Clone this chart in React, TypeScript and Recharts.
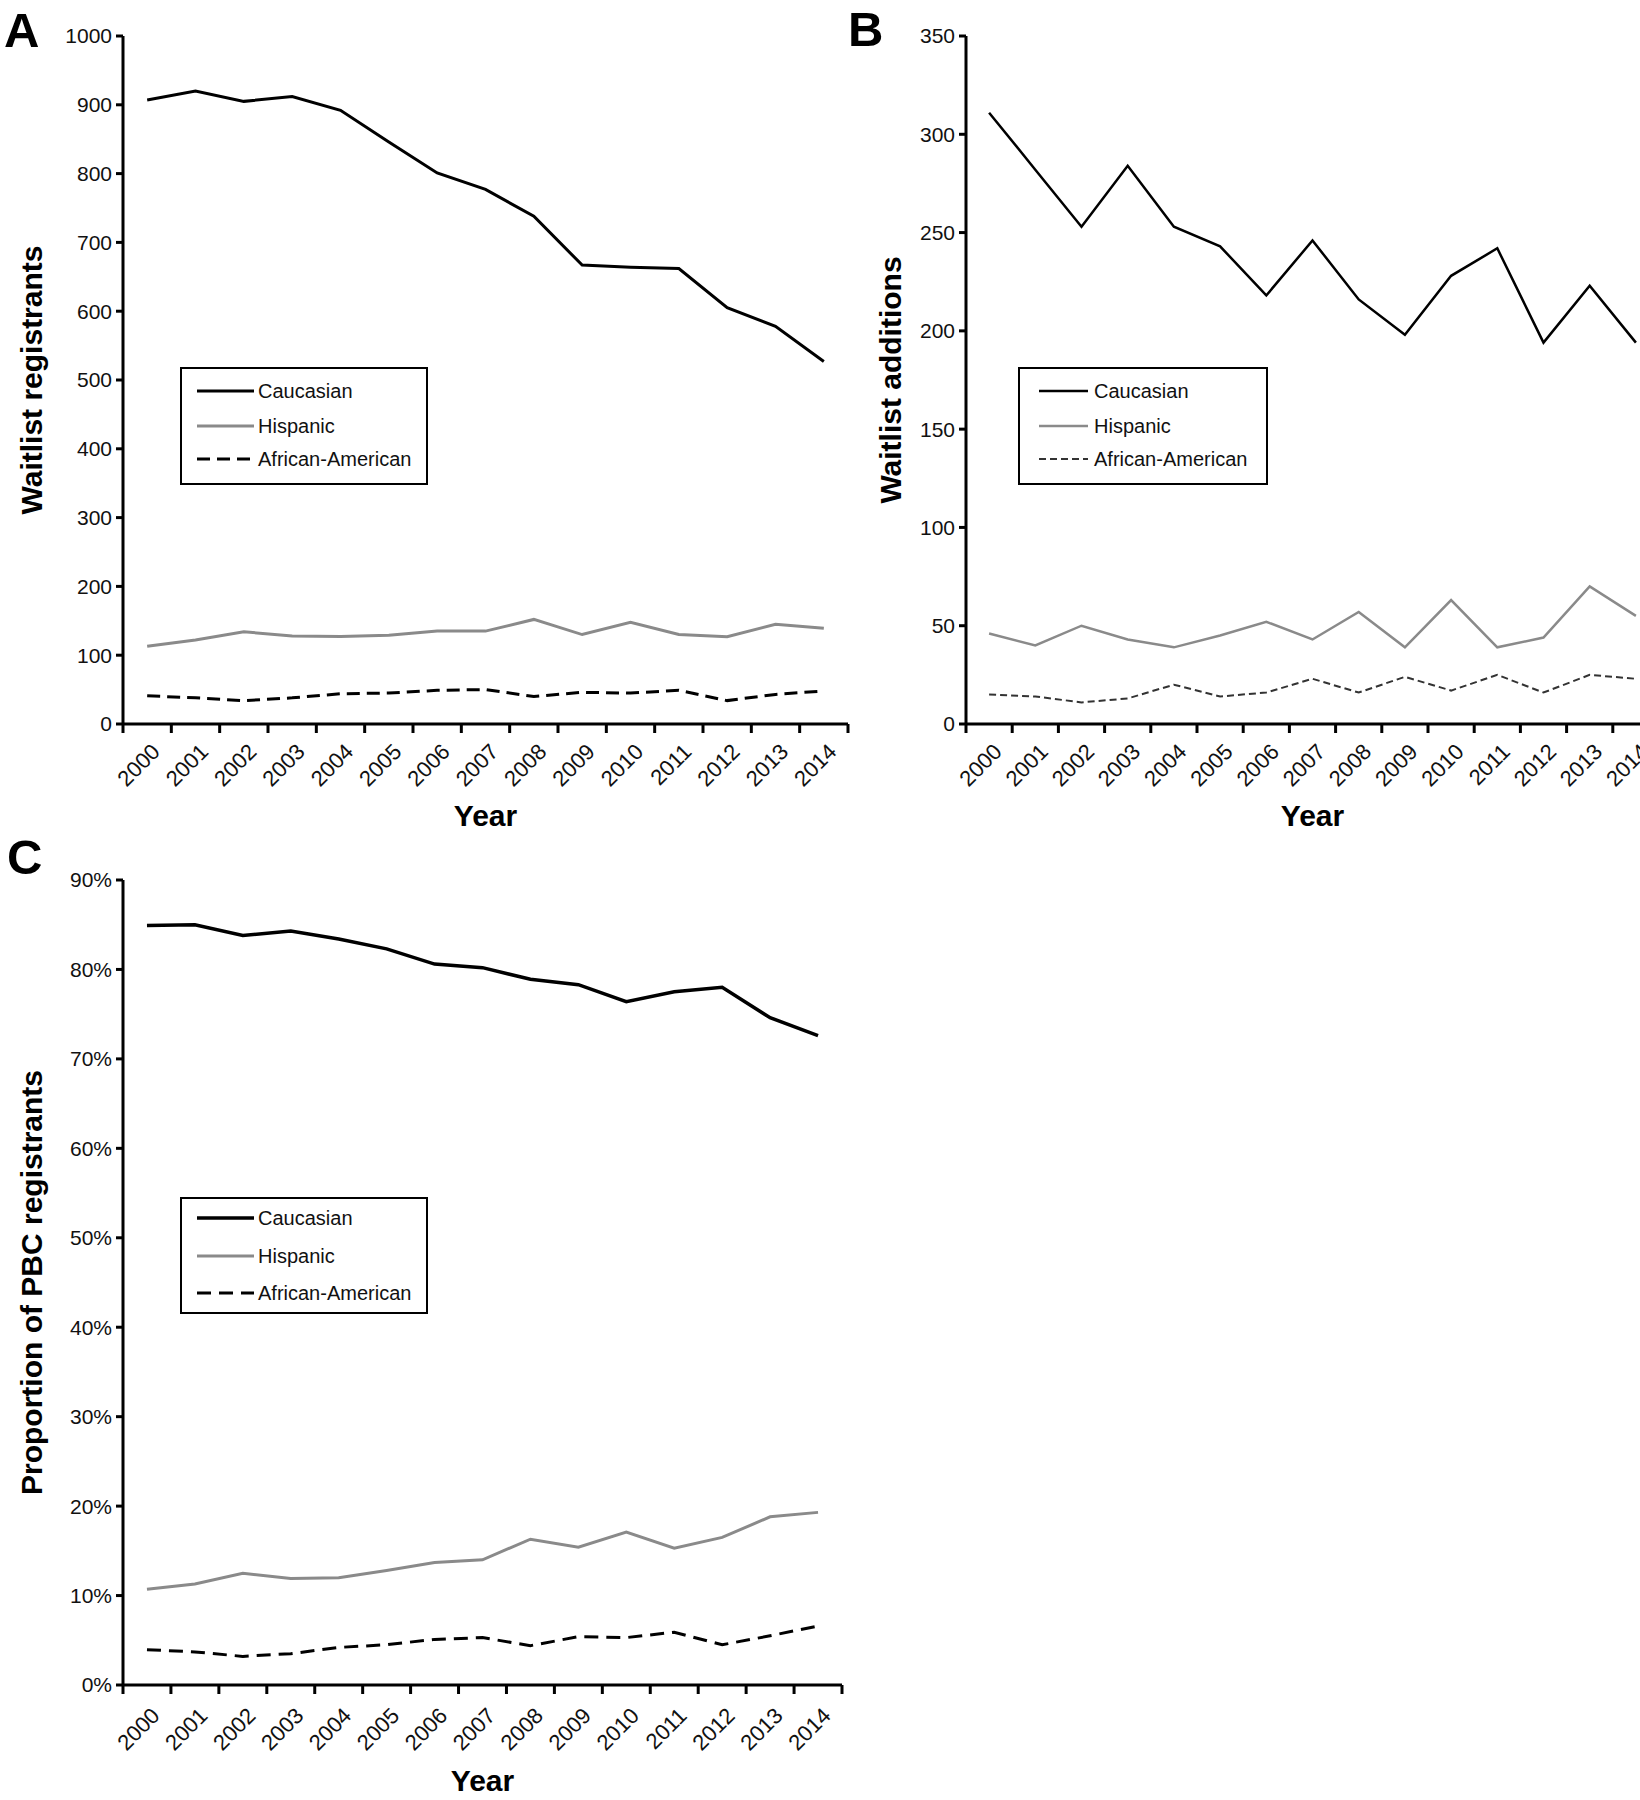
import React from 'react';
import { LineChart, Line, XAxis, YAxis } from 'recharts';

const YEARS = [
  '2000', '2001', '2002', '2003', '2004', '2005', '2006', '2007',
  '2008', '2009', '2010', '2011', '2012', '2013', '2014',
];

// A: waitlist registrants
const REG_CAUCASIAN = [907, 920, 905, 912, 892, 846, 801, 777, 738, 667, 664, 662, 605, 578, 527];
const REG_HISPANIC = [113, 122, 134, 128, 127, 129, 135, 135, 152, 130, 148, 130, 127, 145, 139];
const REG_AFRICAN = [41, 38, 34, 38, 44, 45, 49, 50, 40, 46, 45, 49, 34, 43, 48];

// B: waitlist additions
const ADD_CAUCASIAN = [311, 282, 253, 284, 253, 243, 218, 246, 216, 198, 228, 242, 194, 223, 194];
const ADD_HISPANIC = [46, 40, 50, 43, 39, 45, 52, 43, 57, 39, 63, 39, 44, 70, 55];
const ADD_AFRICAN = [15, 14, 11, 13, 20, 14, 16, 23, 16, 24, 17, 25, 16, 25, 23];

// C: proportion of PBC registrants (%)
const PCT_CAUCASIAN = [84.9, 85.0, 83.8, 84.3, 83.4, 82.3, 80.6, 80.2, 78.9, 78.3, 76.4, 77.5, 78.0, 74.6, 72.6];
const PCT_HISPANIC = [10.7, 11.3, 12.5, 11.9, 12.0, 12.8, 13.7, 14.0, 16.3, 15.4, 17.1, 15.3, 16.5, 18.8, 19.3];
const PCT_AFRICAN = [3.95, 3.7, 3.2, 3.5, 4.2, 4.5, 5.1, 5.3, 4.4, 5.4, 5.3, 5.9, 4.5, 5.5, 6.6];

const TICKS_A = [0, 100, 200, 300, 400, 500, 600, 700, 800, 900, 1000];
const TICKS_B = [0, 50, 100, 150, 200, 250, 300, 350];
const TICKS_C = [0, 10, 20, 30, 40, 50, 60, 70, 80, 90];

const SERIES_NAMES = ['Caucasian', 'Hispanic', 'African-American'];

const FONT = 'Arial, "Liberation Sans", Helvetica, sans-serif';
const GREY = '#8a8a8a';
const INK = '#111';

const BOUNDS = YEARS.map((_, i) => i - 0.5).concat(YEARS.length - 0.5);
const CENTERS = YEARS.map((_, i) => i);

function buildRows(cau: number[], his: number[], aa: number[]) {
  return YEARS.map((year, i) => ({ idx: i, year, cau: cau[i], his: his[i], aa: aa[i] }));
}

type Style = { cauW: number; hisW: number; aaW: number; aaDash: string; aaColor: string };

interface PanelProps {
  left: number;
  top: number;
  width: number;
  height: number;
  margin: { top: number; right: number; left: number; bottom: number };
  yAxisWidth: number;
  labelAxisHeight: number;
  labelGap: number;
  yearDy: number;
  titleX: number;
  yTitle: string;
  domain: [number, number];
  ticks: number[];
  fmt?: (v: number) => string;
  rows: any[];
  st: Style;
}

function Panel(p: PanelProps) {
  return (
    <div style={{ position: 'absolute', left: p.left, top: p.top }}>
      <LineChart width={p.width} height={p.height} data={p.rows} margin={p.margin}>
        <YAxis
          width={p.yAxisWidth}
          domain={p.domain}
          ticks={p.ticks}
          interval={0}
          tickFormatter={p.fmt}
          tickSize={7}
          tickMargin={4}
          axisLine={{ stroke: '#000', strokeWidth: 3 }}
          tickLine={{ stroke: '#000', strokeWidth: 3 }}
          tick={{ fill: INK, fontSize: 21, fontFamily: FONT }}
          label={{
            content: ({ viewBox }: any) => {
              const cx = viewBox.x + p.titleX;
              const cy = viewBox.y + viewBox.height / 2;
              return (
                <text
                  x={cx}
                  y={cy}
                  transform={`rotate(-90, ${cx}, ${cy})`}
                  textAnchor="middle"
                  dominantBaseline="central"
                  fontFamily={FONT}
                  fontWeight="bold"
                  fontSize={30}
                  fill="#000"
                >
                  {p.yTitle}
                </text>
              );
            },
          }}
        />
        <XAxis
          xAxisId="grid"
          type="number"
          dataKey="idx"
          domain={[-0.5, YEARS.length - 0.5]}
          ticks={BOUNDS}
          interval={0}
          allowDataOverflow
          height={10}
          tickSize={9}
          tickFormatter={() => ''}
          axisLine={{ stroke: '#000', strokeWidth: 3 }}
          tickLine={{ stroke: '#000', strokeWidth: 3 }}
        />
        <XAxis
          xAxisId="lab"
          type="number"
          dataKey="idx"
          domain={[-0.5, YEARS.length - 0.5]}
          ticks={CENTERS}
          interval={0}
          allowDataOverflow
          height={p.labelAxisHeight}
          tickSize={0}
          tickMargin={p.labelGap}
          axisLine={false}
          tickLine={false}
          angle={-45}
          textAnchor="end"
          tickFormatter={(i: number) => YEARS[i]}
          tick={{ fill: INK, fontSize: 22, fontFamily: FONT, dx: 3 }}
          label={{
            content: ({ viewBox }: any) => (
              <text
                x={viewBox.x + viewBox.width / 2}
                y={viewBox.y + p.yearDy}
                textAnchor="middle"
                fontFamily={FONT}
                fontWeight="bold"
                fontSize={30}
                fill="#000"
              >
                Year
              </text>
            ),
          }}
        />
        <Line xAxisId="grid" dataKey="cau" stroke="#000" strokeWidth={p.st.cauW} dot={false} isAnimationActive={false} />
        <Line xAxisId="grid" dataKey="his" stroke={GREY} strokeWidth={p.st.hisW} dot={false} isAnimationActive={false} />
        <Line
          xAxisId="grid"
          dataKey="aa"
          stroke={p.st.aaColor}
          strokeWidth={p.st.aaW}
          strokeDasharray={p.st.aaDash}
          dot={false}
          isAnimationActive={false}
        />
      </LineChart>
    </div>
  );
}

function LegendBox({ left, top, width, height, rows, x1, x2, tx, st }: any) {
  const colors = ['#000', GREY, st.aaColor];
  const widths = [st.cauW, st.hisW, st.aaW];
  const dashes = [undefined, undefined, st.aaDash];
  return (
    <svg
      width={width}
      height={height}
      style={{ position: 'absolute', left, top, overflow: 'visible' }}
    >
      <rect x={1} y={1} width={width - 2} height={height - 2} fill="#fff" stroke="#000" strokeWidth={2} />
      {SERIES_NAMES.map((name, i) => (
        <g key={name}>
          <line x1={x1} x2={x2} y1={rows[i]} y2={rows[i]} stroke={colors[i]} strokeWidth={widths[i]} strokeDasharray={dashes[i]} />
          <text x={tx} y={rows[i]} dominantBaseline="central" fontFamily={FONT} fontSize={20} fill={INK}>
            {name}
          </text>
        </g>
      ))}
    </svg>
  );
}

const STYLE_A: Style = { cauW: 3, hisW: 3, aaW: 3, aaDash: '13 7', aaColor: '#000' };
const STYLE_B: Style = { cauW: 2.5, hisW: 2.5, aaW: 2, aaDash: '7 4', aaColor: '#333' };
const STYLE_C: Style = { cauW: 3.5, hisW: 3, aaW: 3, aaDash: '14 8', aaColor: '#000' };

export default function App() {
  const rowsA = buildRows(REG_CAUCASIAN, REG_HISPANIC, REG_AFRICAN);
  const rowsB = buildRows(ADD_CAUCASIAN, ADD_HISPANIC, ADD_AFRICAN);
  const rowsC = buildRows(PCT_CAUCASIAN, PCT_HISPANIC, PCT_AFRICAN);

  return (
    <div
      style={{
        position: 'absolute',
        left: 0,
        top: 0,
        width: 1640,
        height: 1800,
        overflow: 'hidden',
        background: '#fff',
        fontFamily: FONT,
      }}
    >
      <Panel
        left={0}
        top={0}
        width={880}
        height={842}
        margin={{ top: 36, right: 32, left: 0, bottom: 0 }}
        yAxisWidth={123}
        labelAxisHeight={108}
        labelGap={8}
        yearDy={92}
        titleX={31}
        yTitle="Waitlist registrants"
        domain={[0, 1000]}
        ticks={TICKS_A}
        rows={rowsA}
        st={STYLE_A}
      />
      <Panel
        left={840}
        top={0}
        width={840}
        height={842}
        margin={{ top: 36, right: 21, left: 0, bottom: 0 }}
        yAxisWidth={126}
        labelAxisHeight={108}
        labelGap={8}
        yearDy={92}
        titleX={50}
        yTitle="Waitlist additions"
        domain={[0, 350]}
        ticks={TICKS_B}
        rows={rowsB}
        st={STYLE_B}
      />
      <Panel
        left={0}
        top={830}
        width={880}
        height={970}
        margin={{ top: 50, right: 38, left: 0, bottom: 0 }}
        yAxisWidth={123}
        labelAxisHeight={105}
        labelGap={11}
        yearDy={96}
        titleX={31}
        yTitle="Proportion of PBC registrants"
        domain={[0, 90]}
        ticks={TICKS_C}
        fmt={(v: number) => `${v}%`}
        rows={rowsC}
        st={STYLE_C}
      />

      <LegendBox left={180} top={367} width={248} height={118} rows={[24, 59, 92]} x1={17} x2={74} tx={78} st={STYLE_A} />
      <LegendBox left={1018} top={367} width={250} height={118} rows={[24, 59, 92]} x1={21} x2={70} tx={76} st={STYLE_B} />
      <LegendBox left={180} top={1197} width={248} height={117} rows={[21, 59, 96]} x1={17} x2={74} tx={78} st={STYLE_C} />

      <svg width={1640} height={1800} style={{ position: 'absolute', left: 0, top: 0, pointerEvents: 'none' }}>
        <text x={4} y={47} fontFamily={FONT} fontWeight="bold" fontSize={49} fill="#000">A</text>
        <text x={848} y={46} fontFamily={FONT} fontWeight="bold" fontSize={49} fill="#000">B</text>
        <text x={7} y={874} fontFamily={FONT} fontWeight="bold" fontSize={49} fill="#000">C</text>
      </svg>
    </div>
  );
}
